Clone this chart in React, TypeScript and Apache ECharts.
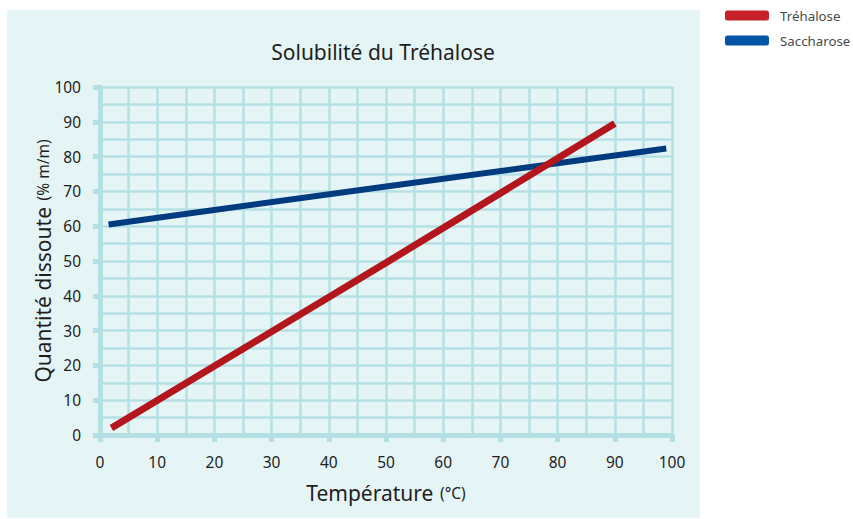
import React, { useEffect, useRef } from "react";
import * as echarts from "echarts";

const title = "Solubilité du Tréhalose";
const seriesNames = ["Tréhalose", "Saccharose"];
const trehaloseTemp = [2, 50, 90];
const trehaloseVal = [2, 49.5, 89.5];
const saccharoseTemp = [1.5, 50, 99];
const saccharoseVal = [60.5, 71.4, 82.3];
const xTicks = [0, 10, 20, 30, 40, 50, 60, 70, 80, 90, 100];
const yTicks = [0, 10, 20, 30, 40, 50, 60, 70, 80, 90, 100];

const FONT = "Noto Sans";
const GRID_C = "#b5e0e3";

export default function App() {
  const ref = useRef<HTMLDivElement>(null);
  useEffect(() => {
    document.body.style.margin = "0";
    const chart = echarts.init(ref.current!, null, { renderer: "svg" });
    const axisCommon = {
      type: "value",
      interval: 10,
      axisLine: { show: true, lineStyle: { color: GRID_C, width: 5 } },
      axisTick: { show: true, length: 7, lineStyle: { color: GRID_C, width: 5 } },
      splitLine: { show: true, lineStyle: { color: GRID_C, width: 2.5 } },
      minorTick: { show: false, splitNumber: 2 },
      minorSplitLine: { show: true, lineStyle: { color: GRID_C, width: 2.5 } },
    };
    chart.setOption({
      animation: false,
      backgroundColor: "#ffffff",
      graphic: [
        {
          type: "rect",
          z: -10,
          silent: true,
          shape: { x: 7, y: 10, width: 693, height: 508 },
          style: { fill: "#e5f4f5" },
        },
      ],
      title: {
        text: title,
        left: 378,
        textAlign: "center",
        top: 36,
        textStyle: { fontFamily: FONT, fontSize: 21, fontWeight: "normal", color: "#1e1e1e" },
      },
      legend: {
        orient: "vertical",
        left: 725,
        top: 9,
        padding: 0,
        itemWidth: 44,
        itemHeight: 10,
        itemGap: 12,
        icon: "roundRect",
        textStyle: { fontFamily: FONT, fontSize: 13.3, color: "#4a4a4a", padding: [0, 0, 0, 6] },
        data: [
          { name: seriesNames[0], itemStyle: { color: "#c8202b" } },
          { name: seriesNames[1], itemStyle: { color: "#0055a6" } },
        ],
      },
      grid: { left: 100, right: 181, top: 87, bottom: 84 },
      xAxis: {
        ...axisCommon,
        min: xTicks[0],
        max: xTicks[xTicks.length - 1],
        name: "{a|Température}  {b|(°C)}",
        nameLocation: "middle",
        nameMoveOverlap: false,
        nameGap: 47,
        nameTextStyle: {
          rich: {
            a: { fontFamily: FONT, fontSize: 21, color: "#1e1e1e" },
            b: { fontFamily: FONT, fontSize: 15.5, color: "#1e1e1e" },
          },
        },
        axisLabel: { margin: 19, fontFamily: FONT, fontSize: 15.5, color: "#1e1e1e" },
      },
      yAxis: {
        ...axisCommon,
        min: yTicks[0],
        max: yTicks[yTicks.length - 1],
        name: "{a|Quantité dissoute}  {b|(% m/m)}",
        nameLocation: "middle",
        nameMoveOverlap: false,
        nameGap: 47,
        nameTextStyle: {
          rich: {
            a: { fontFamily: FONT, fontSize: 21, color: "#1e1e1e" },
            b: { fontFamily: FONT, fontSize: 15.5, color: "#1e1e1e" },
          },
        },
        axisLabel: { margin: 19, fontFamily: FONT, fontSize: 15.5, color: "#1e1e1e", padding: [3, 0, 0, 0] },
      },
      series: [
        {
          name: seriesNames[1],
          type: "line",
          showSymbol: false,
          symbol: "none",
          z: 3,
          data: saccharoseTemp.map((t, i) => [t, saccharoseVal[i]]),
          lineStyle: { color: "#003b80", width: 6, cap: "butt" },
          itemStyle: { color: "#0055a6" },
        },
        {
          name: seriesNames[0],
          type: "line",
          showSymbol: false,
          symbol: "none",
          z: 4,
          data: trehaloseTemp.map((t, i) => [t, trehaloseVal[i]]),
          lineStyle: { color: "#b3171d", width: 7, cap: "butt" },
          itemStyle: { color: "#c8202b" },
        },
      ],
    });
    return () => chart.dispose();
  }, []);
  return <div ref={ref} style={{ width: 853, height: 519 }} />;
}
